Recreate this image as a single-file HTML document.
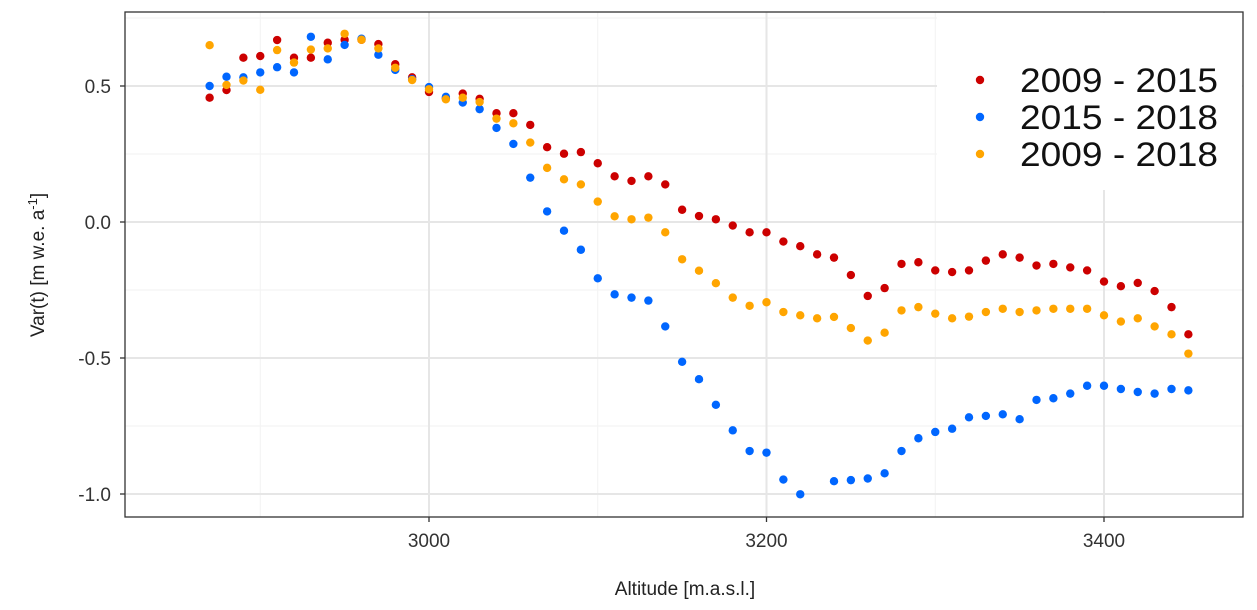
<!DOCTYPE html>
<html><head><meta charset="utf-8"><style>
body{margin:0;background:#fff;}
svg{display:block;font-family:"Liberation Sans",Arial,sans-serif;}
</style></head><body>
<svg id="chart" width="1257" height="610" xmlns="http://www.w3.org/2000/svg">
<g id="grid"></g>
<g id="marks"></g>
<rect x="937" y="13" width="305" height="177" fill="#fff"/>
<rect x="125" y="12" width="1118" height="505" fill="none" stroke="#333" stroke-width="1.3"/>
<g id="axes"></g>
<text x="685" y="595" font-size="19" text-anchor="middle" fill="#222">Altitude [m.a.s.l.]</text>
<text transform="translate(44,265) rotate(-90)" font-size="19" text-anchor="middle" fill="#222">Var(t) [m w.e. a<tspan dy="-7" font-size="13">-1</tspan><tspan dy="7">]</tspan></text>
<g id="legend"></g>
</svg>
<script>
const altitudes=[];for(let a=2870;a<=3450;a+=10)altitudes.push(a);
const s2009_2015=[0.457,0.485,0.604,0.61,0.669,0.604,0.604,0.659,0.67,0.67,0.654,0.58,0.532,0.478,0.455,0.472,0.453,0.4,0.4,0.357,0.275,0.251,0.257,0.216,0.168,0.151,0.168,0.138,0.045,0.022,0.01,-0.013,-0.038,-0.038,-0.072,-0.089,-0.119,-0.131,-0.195,-0.272,-0.243,-0.154,-0.148,-0.178,-0.184,-0.178,-0.142,-0.119,-0.131,-0.16,-0.154,-0.167,-0.178,-0.219,-0.236,-0.224,-0.254,-0.313,-0.413];
const s2015_2018=[0.5,0.534,0.532,0.55,0.569,0.55,0.681,0.598,0.651,0.674,0.615,0.559,0.525,0.496,0.46,0.439,0.415,0.346,0.287,0.163,0.039,-0.032,-0.102,-0.207,-0.266,-0.278,-0.289,-0.384,-0.514,-0.578,-0.672,-0.766,-0.842,-0.848,-0.947,-1.001,null,-0.953,-0.949,-0.943,-0.924,-0.842,-0.795,-0.772,-0.76,-0.718,-0.713,-0.707,-0.725,-0.654,-0.648,-0.631,-0.602,-0.602,-0.614,-0.625,-0.631,-0.614,-0.619];
const s2009_2018=[0.65,0.504,0.52,0.486,0.632,0.586,0.634,0.638,0.692,0.67,0.638,0.567,0.522,0.488,0.451,0.457,0.441,0.38,0.363,0.292,0.199,0.157,0.138,0.075,0.021,0.01,0.016,-0.038,-0.137,-0.179,-0.225,-0.278,-0.308,-0.295,-0.331,-0.343,-0.354,-0.349,-0.39,-0.436,-0.407,-0.325,-0.313,-0.337,-0.354,-0.348,-0.331,-0.319,-0.331,-0.325,-0.319,-0.319,-0.319,-0.343,-0.366,-0.354,-0.384,-0.413,-0.484];
const xTicks=[3000,3200,3400];const xMinor=[2900,3100,3300];
const yTicks=[0.5,0.0,-0.5,-1.0];const yTickLabels=["0.5","0.0","-0.5","-1.0"];const yMinor=[0.75,0.25,-0.25,-0.75];
const seriesNames=["2009 - 2015","2015 - 2018","2009 - 2018"];
const NS="http://www.w3.org/2000/svg";
const X=v=>429+(v-3000)*337.5/200, Y=v=>222-v*272;
function mk(t,p,at){const e=document.createElementNS(NS,t);for(const k in at)e.setAttribute(k,at[k]);p.appendChild(e);return e;}
const g=document.getElementById('grid'),ax=document.getElementById('axes'),m=document.getElementById('marks'),lg=document.getElementById('legend');
xMinor.forEach(v=>{const l=mk('line',g,{x1:X(v),x2:X(v),y1:12,y2:517,stroke:'#f2f2f2','stroke-width':1});});
yMinor.forEach(v=>{const l=mk('line',g,{x1:125,x2:1243,y1:Y(v),y2:Y(v),stroke:'#f2f2f2','stroke-width':1});});
xTicks.forEach(v=>{const l=mk('line',g,{x1:X(v),x2:X(v),y1:12,y2:517,stroke:'#e6e6e6','stroke-width':2});
const t=mk('line',ax,{x1:X(v),x2:X(v),y1:517,y2:522,stroke:'#333','stroke-width':1.3});
const tx=mk('text',ax,{x:X(v),y:547,'font-size':19,'text-anchor':'middle',fill:'#333'});tx.textContent=v;});
yTicks.forEach((v,i)=>{const l=mk('line',g,{x1:125,x2:1243,y1:Y(v),y2:Y(v),stroke:'#e6e6e6','stroke-width':2});
const t=mk('line',ax,{x1:120,x2:125,y1:Y(v),y2:Y(v),stroke:'#333','stroke-width':1.3});
const tx=mk('text',ax,{x:111,y:Y(v)+7,'font-size':19,'text-anchor':'end',fill:'#333'});tx.textContent=yTickLabels[i];});
const series=[[s2009_2015,'#cc0000'],[s2015_2018,'#0066ff'],[s2009_2018,'#ffa500']];
series.forEach(([d,c],si)=>{d.forEach((v,i)=>{if(v===null)return;const p=mk('circle',m,{cx:X(altitudes[i]),cy:Y(v),r:4.2,fill:c});});
const ly=80+si*37;const ld=mk('circle',lg,{cx:980,cy:ly,r:4.2,fill:c});
const lt=mk('text',lg,{x:1020,y:ly+12,'font-size':34,fill:'#111',textLength:198,lengthAdjust:'spacingAndGlyphs'});lt.textContent=seriesNames[si];});
</script>
</body></html>
